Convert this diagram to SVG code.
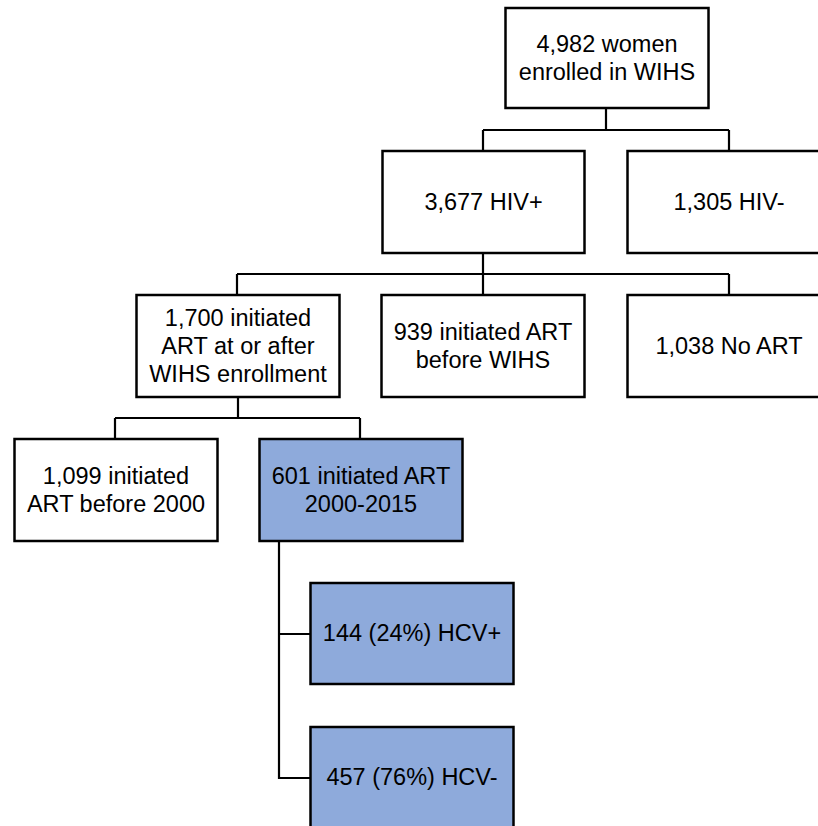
<svg xmlns="http://www.w3.org/2000/svg" width="818" height="826" viewBox="0 0 818 826">
<style>
.box{fill:#ffffff;stroke:#000000;stroke-width:2.5}
.hl{fill:#8eaadb;stroke:#000000;stroke-width:2.5}
.t{font-family:"Liberation Sans","Noto Sans",sans-serif;font-size:23.5px;fill:#000000;text-anchor:middle}
.c{fill:none;stroke:#000000;stroke-width:2.2}
</style>
<rect width="818" height="826" fill="#ffffff"/>
<g id="connectors">
<path class="c" d="M606 108V130M483 130H729M483 130V151M729 130V151"/>
<path class="c" d="M483 253V295M237 274H729M237 274V295M729 274V295"/>
<path class="c" d="M238 397V418M115 418H360M115 418V439M360 418V439"/>
<path class="c" d="M279 541V778H310M279 634H310"/>
</g>
<g id="n_total"><rect class="box" x="505.5" y="8" width="203" height="100"/><text class="t" x="607" y="52">4,982 women</text><text class="t" x="607" y="80">enrolled in WIHS</text></g>
<g id="n_hivpos"><rect class="box" x="382.5" y="151" width="202" height="102"/><text class="t" x="483.5" y="210">3,677 HIV+</text></g>
<g id="n_hivneg"><rect class="box" x="627.5" y="151" width="203" height="102"/><text class="t" x="729" y="210">1,305 HIV-</text></g>
<g id="n_after"><rect class="box" x="136.5" y="295" width="203" height="102"/><text class="t" x="238" y="326">1,700 initiated</text><text class="t" x="238" y="354">ART at or after</text><text class="t" x="238" y="382">WIHS enrollment</text></g>
<g id="n_before"><rect class="box" x="381.5" y="295" width="203" height="102"/><text class="t" x="483" y="340">939 initiated ART</text><text class="t" x="483" y="368">before WIHS</text></g>
<g id="n_noart"><rect class="box" x="627.5" y="295" width="203" height="102"/><text class="t" x="729" y="354">1,038 No ART</text></g>
<g id="n_pre2000"><rect class="box" x="14.5" y="439" width="203" height="102"/><text class="t" x="116" y="484">1,099 initiated</text><text class="t" x="116" y="512">ART before 2000</text></g>
<g id="n_2000"><rect class="hl" x="259.5" y="439" width="203" height="102"/><text class="t" x="361" y="484">601 initiated ART</text><text class="t" x="361" y="512">2000-2015</text></g>
<g id="n_hcvpos"><rect class="hl" x="310.5" y="583" width="203" height="101"/><text class="t" x="412" y="641">144 (24%) HCV+</text></g>
<g id="n_hcvneg"><rect class="hl" x="310.5" y="727" width="203" height="101"/><text class="t" x="412" y="785">457 (76%) HCV-</text></g>
</svg>
